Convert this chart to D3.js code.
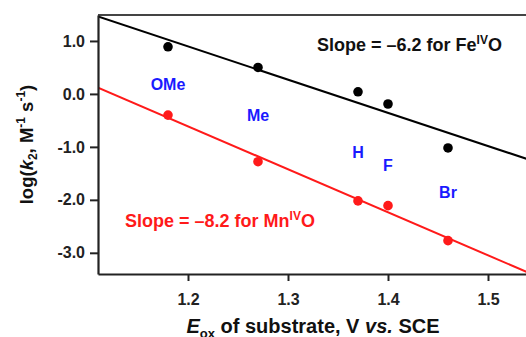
<!DOCTYPE html>
<html>
<head>
<meta charset="utf-8">
<script src="https://cdn.jsdelivr.net/npm/d3@7"></script>
<style>
  body { margin: 0; background: #fff; }
  svg text { font-family: Arial, "Liberation Sans", sans-serif; font-weight: bold; }
</style>
</head>
<body>
<div></div>
<script>
var width = 526, height = 337;

// oxidation potentials of the substrates (V vs SCE)
var eox = [1.18, 1.27, 1.37, 1.40, 1.46];
var substituents = ["OMe", "Me", "H", "F", "Br"];
var labelY = [0.19, -0.40, -1.11, -1.34, -1.85]; // where the blue names sit
// log(k2) values
var logkFe = [0.89, 0.50, 0.04, -0.19, -1.02];
var logkMn = [-0.40, -1.28, -2.02, -2.11, -2.77];
var xTicks = [1.2, 1.3, 1.4, 1.5];
var yTicks = [1.0, 0.0, -1.0, -2.0, -3.0];

// plot box (note: "top" is taken by window.top)
var pLeft = 98, pTop = 15, pRight = 528, pBottom = 274;

var x = d3.scaleLinear().domain([1.11, 1.54]).range([pLeft, pRight]);
var y = d3.scaleLinear().domain([-3.4, 1.49]).range([pBottom, pTop]);

var svg = d3.select("div").append("svg")
    .attr("width", width)
    .attr("height", height);

svg.append("defs").append("clipPath").attr("id", "plot")
  .append("rect")
    .attr("x", pLeft).attr("y", pTop)
    .attr("width", pRight - pLeft).attr("height", pBottom - pTop);

// least squares fit, like the original figure
function fit(xs, ys) {
  var mx = d3.mean(xs), my = d3.mean(ys);
  var sxy = d3.sum(xs, function(d, i) { return (d - mx) * (ys[i] - my); });
  var sxx = d3.sum(xs, function(d) { return (d - mx) * (d - mx); });
  var b = sxy / sxx;
  return function(v) { return my + b * (v - mx); };
}

var series = [
  { vals: logkFe, color: "#000" },
  { vals: logkMn, color: "#ff1a1a" }
];

var g = svg.append("g").attr("clip-path", "url(#plot)");

series.forEach(function(s) {
  var f = fit(eox, s.vals);
  var dom = x.domain();
  g.append("line")
      .attr("x1", x(dom[0])).attr("y1", y(f(dom[0])))
      .attr("x2", x(dom[1])).attr("y2", y(f(dom[1])))
      .style("stroke", s.color)
      .style("stroke-width", 2);

  g.selectAll(null)
      .data(s.vals)
    .enter().append("circle")
      .attr("cx", function(d, i) { return x(eox[i]); })
      .attr("cy", function(d) { return y(d); })
      .attr("r", 4.8)
      .style("fill", s.color);
});

// substituent names
svg.selectAll(".sub")
    .data(substituents)
  .enter().append("text")
    .attr("class", "sub")
    .attr("x", function(d, i) { return x(eox[i]); })
    .attr("y", function(d, i) { return y(labelY[i]); })
    .attr("dy", "0.36em")
    .attr("text-anchor", "middle")
    .style("font-size", "16px")
    .style("fill", "#1a1aff")
    .text(function(d) { return d; });

// frame (top + right)
svg.append("path")
    .attr("d", "M" + pLeft + "," + pTop + "H" + pRight + "V" + pBottom)
    .style("fill", "none")
    .style("stroke", "#444")
    .style("stroke-width", 2);

var fmt = function(d) { return d.toFixed(1); }; // plain hyphen like the figure

var xAxis = svg.append("g")
    .attr("transform", "translate(0," + pBottom + ")")
    .call(d3.axisBottom(x).tickValues(xTicks).tickFormat(fmt)
      .tickSize(7).tickPadding(13).tickSizeOuter(0));

var yAxis = svg.append("g")
    .attr("transform", "translate(" + pLeft + ",0)")
    .call(d3.axisLeft(y).tickValues(yTicks).tickFormat(fmt)
      .tickSize(8).tickPadding(5).tickSizeOuter(0));

[xAxis, yAxis].forEach(function(a) {
  a.select(".domain").style("stroke", "#222").style("stroke-width", 2.2);
  a.selectAll(".tick line").style("stroke", "#222").style("stroke-width", 2);
  a.selectAll(".tick text")
      .style("font-family", "Arial, 'Liberation Sans', sans-serif")
      .style("font-weight", "bold")
      .style("font-size", "16px")
      .style("fill", "#222");
});

// slope annotations
var fe = svg.append("text")
    .attr("x", 317).attr("y", 51)
    .style("font-size", "18px")
    .style("fill", "#111");
fe.append("tspan").text("Slope = \u20136.2 for Fe");
fe.append("tspan").attr("dy", -7).style("font-size", "12px").text("IV");
fe.append("tspan").attr("dy", 7).text("O");

var mn = svg.append("text")
    .attr("x", 125).attr("y", 227)
    .style("font-size", "18px")
    .style("fill", "#ff1a1a");
mn.append("tspan").text("Slope = \u20138.2 for Mn");
mn.append("tspan").attr("dy", -7).style("font-size", "12px").text("IV");
mn.append("tspan").attr("dy", 7).text("O");

// axis titles
var xt = svg.append("text")
    .attr("x", (pLeft + pRight) / 2).attr("y", 333)
    .attr("text-anchor", "middle")
    .style("font-size", "20px")
    .style("fill", "#111");
xt.append("tspan").style("font-style", "italic").text("E");
xt.append("tspan").attr("dy", 5).style("font-size", "13px").text("ox");
xt.append("tspan").attr("dy", -5).text(" of substrate, V ");
xt.append("tspan").style("font-style", "italic").text("vs.");
xt.append("tspan").text(" SCE");

var yt = svg.append("text")
    .attr("transform", "translate(33," + ((pTop + pBottom) / 2) + ") rotate(-90)")
    .attr("text-anchor", "middle")
    .style("font-size", "18.5px")
    .style("fill", "#111");
yt.append("tspan").text("log(");
yt.append("tspan").style("font-style", "italic").text("k");
yt.append("tspan").attr("dy", 4).style("font-size", "12px").text("2");
yt.append("tspan").attr("dy", -4).text(", M");
yt.append("tspan").attr("dy", -8).style("font-size", "12px").text("-1");
yt.append("tspan").attr("dy", 8).text(" s");
yt.append("tspan").attr("dy", -8).style("font-size", "12px").text("-1");
yt.append("tspan").attr("dy", 8).text(")");
</script>
</body>
</html>
